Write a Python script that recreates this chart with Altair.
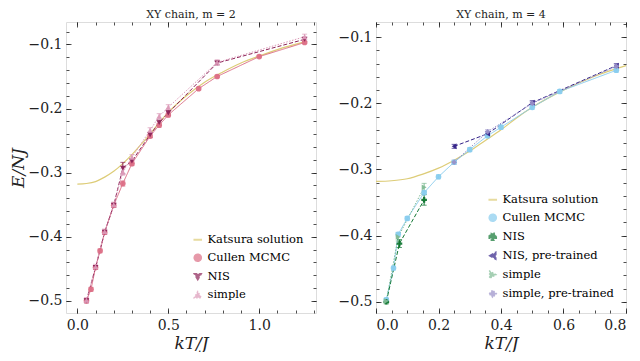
import altair as alt
import pandas as pd

# ---------------- data ----------------
KAT_T = [0.0, 0.05, 0.1, 0.15, 0.2, 0.25, 0.3, 0.35, 0.4, 0.45, 0.5, 0.6, 0.7, 0.8, 0.9, 1.0, 1.1, 1.25]
KAT_E = [-0.318, -0.317, -0.314, -0.307, -0.298, -0.286, -0.272, -0.256, -0.240, -0.222, -0.206, -0.180,
         -0.159, -0.143, -0.129, -0.118, -0.108, -0.096]

# left panel (m = 2)
L_CUL_T = [0.05, 0.075, 0.1, 0.125, 0.15, 0.2, 0.25, 0.3, 0.4, 0.45, 0.5, 0.667, 0.769, 1.0, 1.25]
L_CUL_E = [-0.500, -0.482, -0.448, -0.422, -0.393, -0.351, -0.317, -0.286, -0.243, -0.226, -0.210,
           -0.169, -0.150, -0.119, -0.097]
L_CUL_ERR = [0.003, 0.003, 0.003, 0.003, 0.003, 0.003, 0.004, 0.003, 0.003, 0.003, 0.003, 0.002, 0.002, 0.002, 0.002]

L_NIS_T = [0.05, 0.1, 0.15, 0.2, 0.25, 0.3, 0.4, 0.45, 0.5, 0.769, 1.25]
L_NIS_E = [-0.500, -0.448, -0.393, -0.351, -0.293, -0.282, -0.241, -0.222, -0.207, -0.129, -0.092]
L_NIS_ERR = [0.003, 0.003, 0.003, 0.003, 0.009, 0.004, 0.004, 0.004, 0.004, 0.003, 0.003]

L_SIM_T = [0.05, 0.1, 0.15, 0.2, 0.25, 0.3, 0.4, 0.45, 0.5, 0.769, 1.25]
L_SIM_E = [-0.499, -0.447, -0.392, -0.350, -0.299, -0.276, -0.234, -0.212, -0.198, -0.128, -0.088]
L_SIM_ERR = [0.004, 0.004, 0.004, 0.004, 0.005, 0.004, 0.004, 0.004, 0.004, 0.004, 0.004]

# right panel (m = 4)
R_CUL_T = [0.033, 0.056, 0.071, 0.1, 0.154, 0.2, 0.25, 0.3, 0.357, 0.4, 0.5, 0.588, 0.769]
R_CUL_E = [-0.497, -0.449, -0.398, -0.374, -0.335, -0.311, -0.289, -0.270, -0.249, -0.236, -0.206, -0.182, -0.150]
R_CUL_ERR = [0.003, 0.003, 0.003, 0.003, 0.003, 0.003, 0.003, 0.003, 0.003, 0.003, 0.003, 0.003, 0.003]

R_NIS_T = [0.033, 0.075, 0.154]
R_NIS_E = [-0.500, -0.412, -0.346]
R_NIS_ERR = [0.003, 0.006, 0.008]

R_NISP_T = [0.25, 0.357, 0.5, 0.769]
R_NISP_E = [-0.265, -0.246, -0.199, -0.143]
R_NISP_ERR = [0.003, 0.003, 0.003, 0.003]

R_SIM_T = [0.033, 0.071, 0.154]
R_SIM_E = [-0.499, -0.402, -0.327]
R_SIM_ERR = [0.004, 0.006, 0.006]

R_SIMP_T = [0.25, 0.357, 0.5, 0.769]
R_SIMP_E = [-0.289, -0.243, -0.200, -0.144]
R_SIMP_ERR = [0.003, 0.003, 0.003, 0.003]

L_NAMES = ["Katsura solution", "Cullen MCMC", "NIS", "simple"]
L_COLORS = ["#DDCC77", "#dc6f86", "#8c2358", "#dc9ab8"]
R_NAMES = ["Katsura solution", "Cullen MCMC", "NIS", "NIS, pre-trained", "simple", "simple, pre-trained"]
R_COLORS = ["#DDCC77", "#88CCEE", "#117733", "#332288", "#7fbb94", "#9990c8"]

SERIF = "DejaVu Serif"
BAR = "M-1,-0.08H1V0.08H-1Z"


def series_df(name, t, e, err):
    return pd.DataFrame({"series": name, "kT": t, "E": e,
                         "lo": [a - b for a, b in zip(e, err)],
                         "hi": [a + b for a, b in zip(e, err)]})


def panel(kat, pts, names, colors, shapes, dashes, xdom, ydom, xmaj, xmin_, ymaj, ymin_, title, ytitle):
    color = alt.Color("series:N", scale=alt.Scale(domain=names, range=colors),
                      legend=alt.Legend(title=None, orient="bottom-right", offset=10,
                                        labelFont=SERIF, labelFontSize=11.5, symbolSize=50,
                                        rowPadding=5, symbolStrokeWidth=1.5, padding=2))
    shape = alt.Shape("series:N", scale=alt.Scale(domain=names, range=shapes),
                      legend=alt.Legend(title=None, orient="bottom-right", labelFont=SERIF))
    dash = alt.StrokeDash("series:N", scale=alt.Scale(domain=names, range=dashes), legend=None)
    xs = alt.Scale(domain=xdom, nice=False, zero=False)
    ys = alt.Scale(domain=ydom, nice=False, zero=False)

    def ax(orient, vals, size, labels, t=None):
        kw = dict(orient=orient, values=vals, tickSize=size, offset=-size, domain=False,
                  labels=labels, grid=False, tickColor="#222", tickWidth=0.8, title=t)
        if labels:
            kw.update(labelFont=SERIF, labelFontSize=14, labelColor="#222",
                      labelPadding=5 if orient == "bottom" else 4, format=".1f")
        if t:
            kw.update(titleFont=SERIF, titleFontSize=17, titleFontStyle="italic",
                      titleFontWeight="normal", titleColor="#222",
                      titlePadding=3 if orient == "bottom" else 1)
        return alt.Axis(**kw)

    kat_line = alt.Chart(kat).mark_line(strokeWidth=1.2, interpolate="monotone").encode(
        x=alt.X("kT:Q", scale=xs, axis=ax("bottom", xmaj, 5, True, "kT/J")),
        y=alt.Y("E:Q", scale=ys, axis=ax("left", ymaj, 5, True, ytitle)),
        color=color)
    lines = alt.Chart(pts).mark_line(strokeWidth=1).encode(
        x=alt.X("kT:Q", scale=xs, axis=None), y=alt.Y("E:Q", scale=ys, axis=None),
        color=color, strokeDash=dash)
    bars = alt.Chart(pts).mark_errorbar(ticks=True, thickness=1).encode(
        x=alt.X("kT:Q", scale=xs, axis=None), y=alt.Y("lo:Q", scale=ys, axis=None), y2="hi:Q",
        color=color)
    points = alt.Chart(pts).mark_point(filled=True, size=32, opacity=0.95).encode(
        x=alt.X("kT:Q", scale=xs, axis=None), y=alt.Y("E:Q", scale=ys, axis=None),
        color=color, shape=shape)
    top_right = alt.Chart(kat).mark_line(opacity=0).encode(
        x=alt.X("kT:Q", scale=xs, axis=ax("top", xmaj, 5, False)),
        y=alt.Y("E:Q", scale=ys, axis=ax("right", ymaj, 5, False)))
    minor_bl = alt.Chart(kat).mark_line(opacity=0).encode(
        x=alt.X("kT:Q", scale=xs, axis=ax("bottom", xmin_, 3, False)),
        y=alt.Y("E:Q", scale=ys, axis=ax("left", ymin_, 3, False)))
    minor_tr = alt.Chart(kat).mark_line(opacity=0).encode(
        x=alt.X("kT:Q", scale=xs, axis=ax("top", xmin_, 3, False)),
        y=alt.Y("E:Q", scale=ys, axis=ax("right", ymin_, 3, False)))
    return alt.layer(kat_line, lines, bars, points, top_right, minor_bl, minor_tr).resolve_axis(
        x="independent", y="independent").properties(
        width=250, height=291,
        title=alt.Title(title, font=SERIF, fontSize=11, fontWeight="normal", color="#222", offset=2))


# left
left_kat = pd.DataFrame({"series": "Katsura solution", "kT": KAT_T, "E": KAT_E})
left_pts = pd.concat([series_df("Cullen MCMC", L_CUL_T, L_CUL_E, L_CUL_ERR),
                      series_df("NIS", L_NIS_T, L_NIS_E, L_NIS_ERR),
                      series_df("simple", L_SIM_T, L_SIM_E, L_SIM_ERR)], ignore_index=True)
left = panel(left_kat, left_pts, L_NAMES, L_COLORS,
             [BAR, "circle", "triangle-down", "triangle-up"],
             [[1, 0], [1, 0], [4, 2], [1.5, 1.5]],
             [-0.0625, 1.3125], [-0.519, -0.065],
             [0.0, 0.5, 1.0], [round(-0.1 + 0.1 * i, 2) for i in range(15)],
             [-0.5, -0.4, -0.3, -0.2, -0.1], [round(-0.52 + 0.02 * i, 2) for i in range(24)],
             "XY chain, m = 2", "E/NJ")

# right
rk = [(t, e) for t, e in zip(KAT_T, KAT_E) if t <= 0.8]
right_kat = pd.DataFrame({"series": "Katsura solution", "kT": [a for a, _ in rk], "E": [b for _, b in rk]})
right_pts = pd.concat([series_df("Cullen MCMC", R_CUL_T, R_CUL_E, R_CUL_ERR),
                       series_df("NIS", R_NIS_T, R_NIS_E, R_NIS_ERR),
                       series_df("NIS, pre-trained", R_NISP_T, R_NISP_E, R_NISP_ERR),
                       series_df("simple", R_SIM_T, R_SIM_E, R_SIM_ERR),
                       series_df("simple, pre-trained", R_SIMP_T, R_SIMP_E, R_SIMP_ERR)], ignore_index=True)
right = panel(right_kat, right_pts, R_NAMES, R_COLORS,
              [BAR, "circle", "cross", "triangle-left", "triangle-right", "diamond"],
              [[1, 0], [1, 0], [4, 2], [4, 2], [1.5, 1.5], [1.5, 1.5]],
              [0.0, 0.8], [-0.517, -0.077],
              [0.0, 0.2, 0.4, 0.6, 0.8], [round(0.05 * i, 2) for i in range(17)],
              [-0.5, -0.4, -0.3, -0.2, -0.1], [round(-0.52 + 0.02 * i, 2) for i in range(23)],
              "XY chain, m = 4", None)

chart = alt.hconcat(left, right, spacing=20).resolve_scale(
    color="independent", shape="independent", strokeDash="independent").resolve_legend(
    color="independent", shape="independent").configure_view(
    stroke="#333", strokeWidth=1).configure_axis(
    labelFont=SERIF, titleFont=SERIF).configure_legend(
    labelFont=SERIF, titleFont=SERIF).configure_title(font=SERIF).configure(
    padding={"left": 0, "top": 0, "right": 2, "bottom": 0}, background="white", font=SERIF)

chart.save("out.html", embed_options={"renderer": "svg", "actions": False})
